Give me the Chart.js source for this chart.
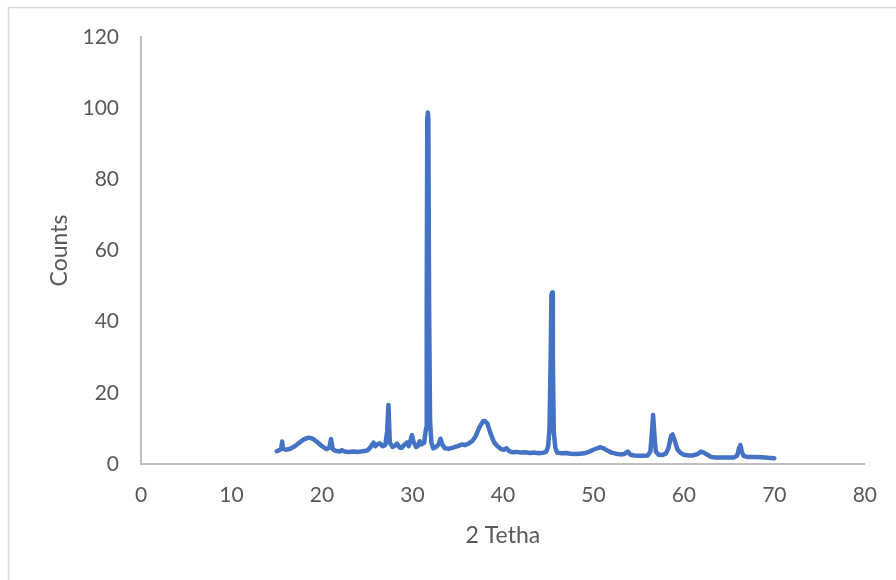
<html>
  <head>
    <script src="https://cdn.jsdelivr.net/npm/chart.js@4.4.1/dist/chart.umd.min.js"></script>
    <style>
      body { margin: 0; background: #fff; }
    </style>
  </head>
  <body>
    <canvas id="xrd" width="896" height="580"></canvas>
    <script>
      // diffraction pattern
      const twoTheta = [
        15.0, 15.3, 15.5, 15.6, 15.7, 16.0, 16.5, 17.0, 17.5, 18.0, 18.5, 19.0, 19.5, 20.0, 20.5, 20.8,
        21.0, 21.2, 21.5, 22.0, 22.2, 22.5, 23.0, 23.5, 24.0, 24.5, 25.0, 25.3, 25.5, 25.7, 25.9, 26.1,
        26.4, 26.7, 27.0, 27.2, 27.35, 27.5, 27.8, 28.0, 28.3, 28.6, 28.8, 29.1, 29.4, 29.6, 29.8, 29.95,
        30.1, 30.4, 30.6, 30.8, 31.0, 31.3, 31.5, 31.58, 31.64, 31.7, 31.76, 31.84, 31.95, 32.1, 32.3, 32.6,
        32.9, 33.1, 33.3, 33.6, 34.0, 34.5, 35.0, 35.5, 35.8, 36.2, 36.6, 37.0, 37.4, 37.8, 38.0, 38.3,
        38.6, 39.0, 39.4, 39.8, 40.1, 40.4, 40.7, 41.0, 41.5, 42.0, 42.5, 43.0, 43.5, 44.0, 44.5, 44.8,
        45.0, 45.15, 45.28, 45.36, 45.44, 45.52, 45.62, 45.8, 46.0, 46.5, 47.0, 47.5, 48.0, 48.5, 49.0, 49.5,
        50.0, 50.5, 50.8, 51.2, 51.6, 52.0, 52.5, 53.0, 53.4, 53.8, 54.1, 54.5, 55.0, 55.5, 56.0, 56.3,
        56.5, 56.6, 56.75, 56.9, 57.2, 57.6, 58.0, 58.3, 58.6, 58.75, 59.0, 59.3, 59.7, 60.0, 60.5, 61.0,
        61.5, 61.9, 62.2, 62.6, 63.0, 63.5, 64.0, 64.5, 65.0, 65.5, 65.9, 66.1, 66.25, 66.4, 66.6, 67.0,
        67.5, 68.0, 68.5, 69.0, 69.5, 70.0
      ];
      const counts = [
        3.6, 3.9, 4.2, 6.3, 4.3, 4.0, 4.3, 5.0, 6.0, 6.9, 7.4, 7.1, 6.1, 5.0, 4.2, 4.5,
        7.0, 4.2, 3.7, 3.5, 3.9, 3.5, 3.4, 3.5, 3.4, 3.6, 3.8, 4.5, 5.2, 6.0, 5.0, 5.5,
        5.8, 5.0, 5.3, 9.0, 16.6, 6.0, 4.8, 5.0, 5.7, 4.6, 4.5, 5.4, 6.1, 5.0, 6.8, 8.1,
        6.4, 4.8, 5.0, 6.4, 5.5, 6.0, 10.0, 45.0, 97.5, 98.8, 97.0, 45.0, 12.0, 6.0, 4.4, 4.8,
        5.5, 7.1, 5.5, 4.4, 4.3, 4.6, 5.0, 5.5, 5.3, 5.7, 6.4, 7.9, 10.3, 12.0, 12.1, 11.3,
        8.8, 6.2, 5.0, 4.2, 4.0, 4.4, 3.6, 3.3, 3.4, 3.2, 3.3, 3.1, 3.2, 3.0, 3.2, 3.5,
        5.0, 10.0, 30.0, 47.5, 48.2, 30.0, 9.0, 4.5, 3.2, 3.0, 3.1, 2.9, 2.8, 2.9, 3.0, 3.4,
        4.0, 4.5, 4.7, 4.3, 3.7, 3.2, 2.9, 2.7, 2.8, 3.5, 2.6, 2.4, 2.3, 2.3, 2.4, 3.5,
        10.0, 13.8, 8.0, 3.5, 2.6, 2.5, 2.9, 4.5, 8.0, 8.3, 6.5, 4.0, 3.0, 2.6, 2.4, 2.4,
        2.8, 3.5, 3.2, 2.6, 2.0, 1.8, 1.8, 1.8, 1.8, 1.8, 2.4, 4.5, 5.3, 3.5, 2.3, 2.0,
        2.0, 2.0, 1.9, 1.8, 1.7, 1.6
      ];
      const xTicks = { min: 0, max: 80, step: 10 };
      const yTicks = { min: 0, max: 120, step: 20 };

      const points = twoTheta.map((x, i) => ({ x: x, y: counts[i] }));

      const textGrey = "#595959";
      const axisGrey = "#bfbfbf";

      // light frame of the chart area, as in the spreadsheet export
      const frame = {
        id: "frame",
        beforeDraw(chart) {
          const c = chart.ctx;
          c.save();
          c.strokeStyle = "#d9d9d9";
          c.lineWidth = 1.5;
          c.strokeRect(8.5, 7.5, 960, 640);
          c.restore();
        }
      };

      const ctx = document.getElementById("xrd").getContext("2d");
      const chart = new Chart(ctx, {
        type: "scatter",
        data: {
          datasets: [
            {
              data: points,
              showLine: true,
              borderColor: "#4472C4",
              backgroundColor: "#4472C4",
              borderWidth: 4.5,
              pointRadius: 0,
              tension: 0,
              borderJoinStyle: "round",
              borderCapStyle: "round"
            }
          ]
        },
        options: {
          responsive: false,
          animation: false,
          layout: { padding: { top: 37, right: 31, left: 0, bottom: 0 } },
          plugins: {
            legend: { display: false },
            tooltip: { enabled: false }
          },
          scales: {
            x: {
              type: "linear",
              min: xTicks.min,
              max: xTicks.max,
              afterFit: s => { s.height = 116; },
              ticks: {
                stepSize: xTicks.step,
                padding: 19,
                color: textGrey,
                font: { family: "Lato", size: 21 }
              },
              grid: { display: false, drawTicks: false },
              border: { color: axisGrey, width: 2 },
              title: {
                display: true,
                text: "2 Tetha",
                color: textGrey,
                font: { family: "Lato", size: 23 },
                padding: { top: 0, bottom: 31 }
              }
            },
            y: {
              min: yTicks.min,
              max: yTicks.max,
              afterFit: s => { s.width = 141; },
              ticks: {
                stepSize: yTicks.step,
                padding: 22,
                color: textGrey,
                font: { family: "Lato", size: 21 }
              },
              grid: { display: false, drawTicks: false },
              border: { color: axisGrey, width: 2 },
              title: {
                display: true,
                text: "Counts",
                color: textGrey,
                font: { family: "Lato", size: 23 },
                padding: { top: 46, bottom: 0 }
              }
            }
          }
        },
        plugins: [frame]
      });
    </script>
  </body>
</html>
